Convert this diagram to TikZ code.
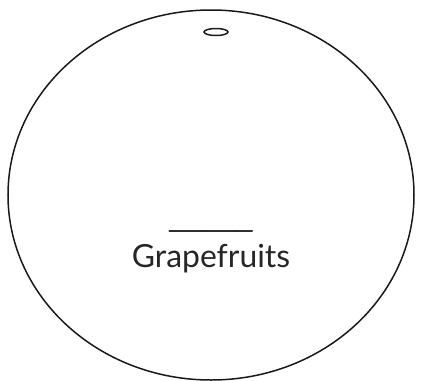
\documentclass[tikz,border=0pt]{standalone}
\usepackage{fontspec}
\usetikzlibrary{shapes.geometric}
\setmainfont{Lato}
\newfontfamily\barfont{Liberation Sans}
\begin{document}
\begin{tikzpicture}[x=1bp,y=-1bp,
  outline/.style={draw=black!90,line width=1.5bp},
  lbl/.style={font=\fontsize{32}{36}\selectfont,text=black!85,inner sep=0pt}]
\useasboundingbox (0,0) rectangle (421,381);
\node[outline,ellipse,minimum width=406bp,minimum height=370bp,inner sep=0pt] (fruit) at (211,195) {};
\node[outline,ellipse,minimum width=24bp,minimum height=7bp,inner sep=0pt] (hole) at (216,32) {};
\node[lbl,font=\barfont\fontsize{30}{34}\selectfont,anchor=base] (blank) at (211,226) {\_\_\_\_\_};
\node[lbl,anchor=base] (name) at (211,267) {Grapefruits};
\end{tikzpicture}
\end{document}
